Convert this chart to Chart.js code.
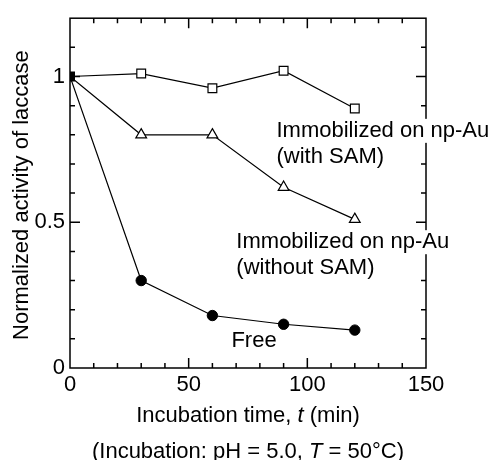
<!DOCTYPE html>
<html>
<head>
<meta charset="utf-8">
<script src="https://cdn.jsdelivr.net/npm/chart.js@4.4.1/dist/chart.umd.min.js"></script>
<style>
  html, body { margin: 0; padding: 0; background: #fff; }
  canvas { display: block; }
</style>
</head>
<body>
<canvas id="chart" width="490" height="460"></canvas>
<script>
// values
const times = [0, 30, 60, 90, 120];
const withSAM = [1, 1.01, 0.96, 1.02, 0.89];
const withoutSAM = [1, 0.80, 0.80, 0.62, 0.51];
const free = [1, 0.30, 0.18, 0.15, 0.13];

const xTicks = [0, 50, 100, 150];
const yTicks = [0, 0.5, 1];

const FONT = '"Liberation Sans", Arial, Helvetica, sans-serif';

const toPoints = ys => ys.map((y, i) => ({ x: times[i], y }));

// inward ticks + frame
const framePlugin = {
  id: 'frame',
  beforeDatasetsDraw(chart) {
    const { ctx, chartArea: a, scales: { x, y } } = chart;
    ctx.save();
    ctx.strokeStyle = '#000';
    ctx.lineWidth = 1.5;
    ctx.strokeRect(a.left, a.top, a.right - a.left, a.bottom - a.top);
    ctx.beginPath();
    for (let v = 10; v < 150; v += 10) {
      const px = x.getPixelForValue(v);
      const len = v % 50 === 0 ? 10 : 5;
      ctx.moveTo(px, a.bottom); ctx.lineTo(px, a.bottom - len);
      ctx.moveTo(px, a.top); ctx.lineTo(px, a.top + len);
    }
    for (let i = 1; i < 12; i++) {
      const py = y.getPixelForValue(i / 10);
      const len = i % 5 === 0 ? 10 : 5;
      ctx.moveTo(a.left, py); ctx.lineTo(a.left + len, py);
      ctx.moveTo(a.right, py); ctx.lineTo(a.right - len, py);
    }
    ctx.stroke();
    ctx.restore();
  }
};

function drawParts(ctx, parts, x, y, align, bg) {
  const fontFor = p => (p.i ? 'italic ' : '') + '22px ' + FONT;
  let w = 0;
  parts.forEach(p => { ctx.font = fontFor(p); w += ctx.measureText(p.t).width; });
  let cx = align === 'center' ? x - w / 2 : x;
  if (bg) {
    ctx.fillStyle = '#fff';
    ctx.fillRect(cx - 1, y - 18, w + 2, 24);
  }
  ctx.fillStyle = '#000';
  ctx.textAlign = 'left';
  ctx.textBaseline = 'alphabetic';
  parts.forEach(p => {
    ctx.font = fontFor(p);
    ctx.fillText(p.t, cx, y);
    cx += ctx.measureText(p.t).width;
  });
}

const textPlugin = {
  id: 'texts',
  afterDraw(chart) {
    const { ctx, chartArea: a, scales: { x, y } } = chart;
    ctx.save();
    const notes = [
      { x: 87, y: 0.793, lines: ['Immobilized on np-Au', '(with SAM)'] },
      { x: 70.1, y: 0.411, lines: ['Immobilized on np-Au', '(without SAM)'] },
      { x: 68, y: 0.071, lines: ['Free'] }
    ];
    notes.forEach(n => {
      const px = x.getPixelForValue(n.x);
      const py = y.getPixelForValue(n.y);
      n.lines.forEach((t, k) => drawParts(ctx, [{ t }], px, py + k * 26, 'left', true));
    });
    const cx = (a.left + a.right) / 2;
    drawParts(ctx, [{ t: 'Incubation time, ' }, { t: 't', i: true }, { t: ' (min)' }], cx, 421.5, 'center');
    drawParts(ctx, [{ t: '(Incubation: pH = 5.0, ' }, { t: 'T', i: true }, { t: ' = 50°C)' }], cx, 458, 'center');
    ctx.translate(27.7, (a.top + a.bottom) / 2 + 2);
    ctx.rotate(-Math.PI / 2);
    drawParts(ctx, [{ t: 'Normalized activity of laccase' }], 0, 0, 'center');
    ctx.restore();
  }
};

new Chart(document.getElementById('chart'), {
  type: 'line',
  data: {
    datasets: [
      {
        label: 'Immobilized on np-Au (with SAM)',
        data: toPoints(withSAM),
        borderColor: '#000', borderWidth: 1.2,
        pointStyle: 'rect', pointRadius: 6.2, pointBorderWidth: 1.2,
        pointBorderColor: '#000',
        pointBackgroundColor: ['#000', '#fff', '#fff', '#fff', '#fff']
      },
      {
        label: 'Immobilized on np-Au (without SAM)',
        data: toPoints(withoutSAM),
        borderColor: '#000', borderWidth: 1.2,
        pointStyle: 'triangle', pointRadius: [0, 6.2, 6.2, 6.2, 6.2], pointBorderWidth: 1.2,
        pointBorderColor: '#000', pointBackgroundColor: '#fff'
      },
      {
        label: 'Free',
        data: toPoints(free),
        borderColor: '#000', borderWidth: 1.2,
        pointStyle: 'circle', pointRadius: [0, 5.2, 5.2, 5.2, 5.2], pointBorderWidth: 1,
        pointBorderColor: '#000', pointBackgroundColor: '#000'
      }
    ]
  },
  options: {
    responsive: false,
    animation: false,
    events: [],
    layout: { padding: { left: 0, right: 64, top: 13, bottom: 0 } },
    plugins: { legend: { display: false }, tooltip: { enabled: false } },
    elements: { line: { tension: 0 } },
    scales: {
      x: {
        type: 'linear', min: 0, max: 150,
        afterBuildTicks: s => { s.ticks = xTicks.map(v => ({ value: v })); },
        afterFit: s => { s.height = 92; },
        grid: { display: false, drawTicks: false },
        border: { display: false },
        ticks: { font: { family: FONT, size: 22 }, color: '#000', padding: 4, maxRotation: 0 }
      },
      y: {
        type: 'linear', min: 0, max: 1.2,
        afterBuildTicks: s => { s.ticks = yTicks.map(v => ({ value: v })); },
        afterFit: s => { s.width = 70; },
        grid: { display: false, drawTicks: false },
        border: { display: false },
        ticks: { font: { family: FONT, size: 22 }, color: '#000', padding: 5, callback: v => String(v) }
      }
    }
  },
  plugins: [framePlugin, textPlugin]
});
</script>
</body>
</html>
